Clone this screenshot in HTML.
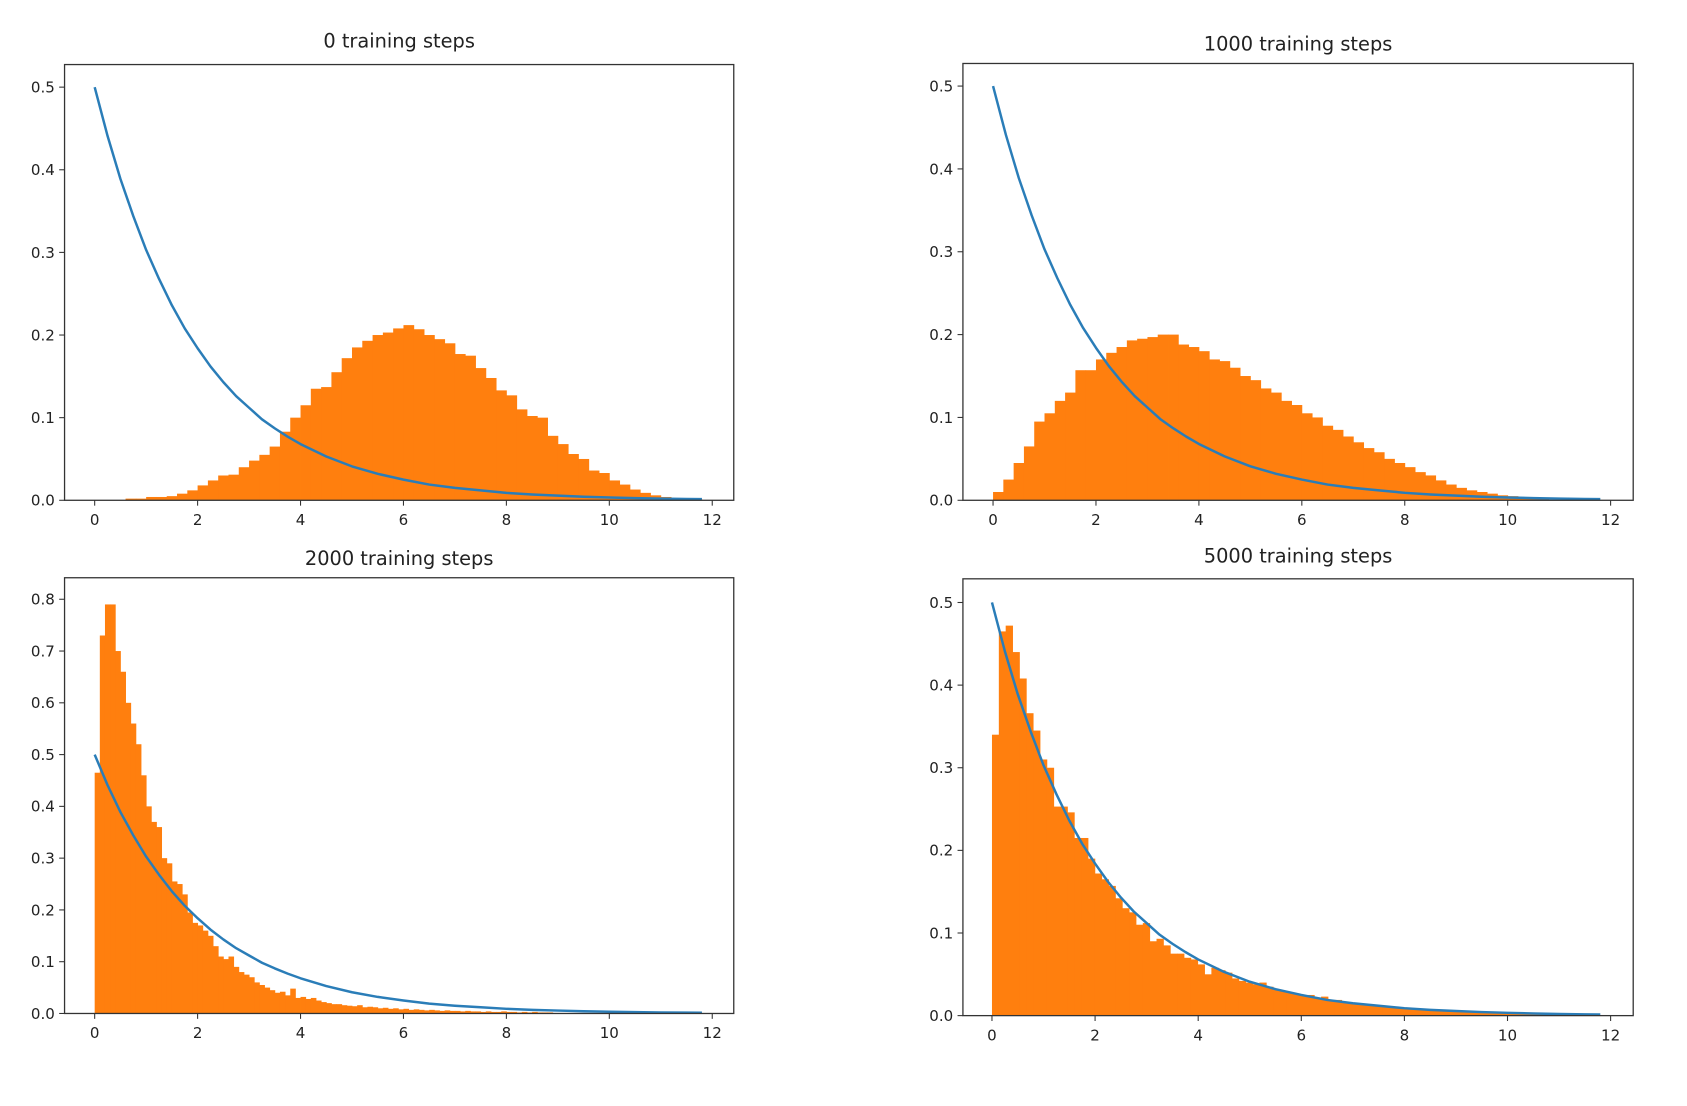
<!DOCTYPE html>
<html><head><meta charset="utf-8"><style>
html,body{margin:0;padding:0;background:#fff;}
svg{display:block;}
text{font-family:"DejaVu Sans","Liberation Sans",sans-serif;fill:#222;}
</style></head><body>
<svg id="fig" width="1687" height="1106" viewBox="0 0 1568 1028" preserveAspectRatio="none" xmlns="http://www.w3.org/2000/svg"></svg>
<script>
// Panel data (histogram bin starts, bin width, heights) and reference pdf samples
const titles = ["0 training steps","1000 training steps","2000 training steps","5000 training steps"];
const binStart = [0.6, 0, 0, 0];
const binWidth = [0.2, 0.2, 0.1, 0.133];
const hist0 = [0.002,0.002,0.004,0.004,0.005,0.008,0.012,0.018,0.024,0.03,0.031,0.04,0.048,0.055,0.065,0.083,0.1,0.115,0.135,0.137,0.155,0.172,0.185,0.193,0.2,0.203,0.208,0.212,0.207,0.2,0.195,0.19,0.177,0.175,0.16,0.148,0.133,0.127,0.11,0.102,0.1,0.078,0.068,0.056,0.05,0.036,0.033,0.024,0.019,0.013,0.009,0.006,0.004,0.002,0.001,0.001];
const hist1 = [0.01,0.025,0.045,0.065,0.095,0.105,0.12,0.13,0.157,0.157,0.17,0.178,0.185,0.193,0.195,0.197,0.2,0.2,0.188,0.185,0.18,0.17,0.168,0.16,0.15,0.145,0.135,0.13,0.12,0.115,0.105,0.1,0.09,0.085,0.077,0.07,0.063,0.058,0.05,0.045,0.04,0.034,0.03,0.024,0.019,0.015,0.012,0.01,0.008,0.006,0.005,0.003,0.002,0.001];
const hist2 = [0.465,0.73,0.79,0.79,0.7,0.66,0.6,0.56,0.52,0.46,0.4,0.37,0.36,0.3,0.29,0.255,0.25,0.23,0.195,0.175,0.17,0.16,0.15,0.13,0.11,0.105,0.11,0.09,0.08,0.075,0.07,0.06,0.055,0.05,0.045,0.04,0.042,0.035,0.048,0.03,0.032,0.028,0.03,0.025,0.022,0.02,0.018,0.018,0.016,0.015,0.014,0.016,0.012,0.013,0.012,0.01,0.011,0.009,0.01,0.008,0.009,0.007,0.008,0.007,0.006,0.007,0.006,0.005,0.006,0.005,0.005,0.004,0.005,0.004,0.004,0.003,0.004,0.003,0.003,0.004,0.003,0.003,0.002,0.003,0.002,0.003,0.002,0.002,0.002];
const hist3 = [0.34,0.465,0.472,0.44,0.408,0.366,0.345,0.31,0.3,0.253,0.253,0.246,0.215,0.215,0.19,0.172,0.165,0.157,0.142,0.13,0.125,0.11,0.112,0.09,0.093,0.085,0.075,0.075,0.07,0.068,0.062,0.05,0.058,0.055,0.052,0.045,0.042,0.04,0.038,0.04,0.035,0.031,0.03,0.028,0.026,0.024,0.025,0.022,0.023,0.019,0.019,0.017,0.015,0.014,0.013,0.012,0.012,0.011,0.01,0.01,0.009,0.009,0.008,0.008,0.007,0.007,0.006,0.006,0.005,0.005,0.005,0.004,0.004,0.004,0.003,0.003,0.003,0.003,0.002,0.002,0.002,0.002,0.002,0.001,0.001];
const hists = [hist0, hist1, hist2, hist3];
const pdfX = [0,0.25,0.5,0.75,1,1.25,1.5,1.75,2,2.25,2.5,2.75,3,3.25,3.5,3.75,4,4.5,5,5.5,6,6.5,7,7.5,8,8.5,9,9.5,10,10.5,11,11.5,11.8];
const pdfY = [0.5,0.441,0.389,0.344,0.303,0.268,0.236,0.208,0.184,0.162,0.143,0.126,0.112,0.098,0.087,0.077,0.068,0.053,0.041,0.032,0.025,0.019,0.015,0.012,0.009,0.007,0.0056,0.0043,0.0034,0.0026,0.002,0.0016,0.0014];
const yTicks = [[0,0.1,0.2,0.3,0.4,0.5],[0,0.1,0.2,0.3,0.4,0.5],[0,0.1,0.2,0.3,0.4,0.5,0.6,0.7,0.8],[0,0.1,0.2,0.3,0.4,0.5]];
const xTicks = [0,2,4,6,8,10,12];

// layout (not data)
const layouts = [
  {l:60,r:682,t:60,b:465,x0:88,x12:662,yTop:81,yTopVal:0.5,ty:44},
  {l:895,r:1518,t:59,b:465,x0:923,x12:1497,yTop:80,yTopVal:0.5,ty:47},
  {l:60,r:682,t:537,b:942,x0:88,x12:662,yTop:557,yTopVal:0.8,ty:525},
  {l:895,r:1518,t:538,b:944,x0:922,x12:1497,yTop:560,yTopVal:0.5,ty:523}
];
const NS="http://www.w3.org/2000/svg";
const svg=document.getElementById('fig');
function mk(tag,attrs,parent){const e=document.createElementNS(NS,tag);for(const k in attrs)e.setAttribute(k,attrs[k]);(parent||svg).appendChild(e);return e;}
layouts.forEach((L,p)=>{
  const g=mk('g',{});
  
  
  const xs=v=>L.x0+(L.x12-L.x0)*v/12;
  const ys=v=>L.b-(L.b-L.yTop)*v/L.yTopVal;
  const hg=mk('g',{},g);
  
  
  hists[p].forEach((h,i)=>{
    const x1=xs(binStart[p]+i*binWidth[p]), x2=xs(binStart[p]+(i+1)*binWidth[p]);
    const r=mk('rect',{x:x1,y:ys(h),width:x2-x1+0.4,height:L.b-ys(h),fill:'#ff7f0e'},hg);
    
    
  });
  let d='';
  pdfX.forEach((x,i)=>{d+=(i?'L':'M')+xs(x).toFixed(2)+','+ys(pdfY[i]).toFixed(2);});
  const c=mk('path',{d:d,fill:'none',stroke:'#2a7db8','stroke-width':2.3,'stroke-linejoin':'round'},g);
  
  
  const f=mk('rect',{x:L.l,y:L.t,width:L.r-L.l,height:L.b-L.t,fill:'none',stroke:'#333','stroke-width':1.2},g);
  
  
  yTicks[p].forEach(v=>{
    const y=ys(v);
    mk('line',{x1:L.l-5,x2:L.l,y1:y,y2:y,stroke:'#333','stroke-width':1},g);
    const t=mk('text',{x:L.l-9,y:y+5,'font-size':14,'text-anchor':'end'},g);
    t.textContent=v.toFixed(1);
    
    
  });
  xTicks.forEach(v=>{
    const x=xs(v);
    mk('line',{x1:x,x2:x,y1:L.b,y2:L.b+5,stroke:'#333','stroke-width':1},g);
    const t=mk('text',{x:x,y:L.b+23,'font-size':14,'text-anchor':'middle'},g);
    t.textContent=String(v);
    
    
  });
  const tt=mk('text',{x:(L.l+L.r)/2,y:L.ty,'font-size':18,'text-anchor':'middle'},g);
  tt.textContent=titles[p];
  
  
});
</script>
</body></html>
